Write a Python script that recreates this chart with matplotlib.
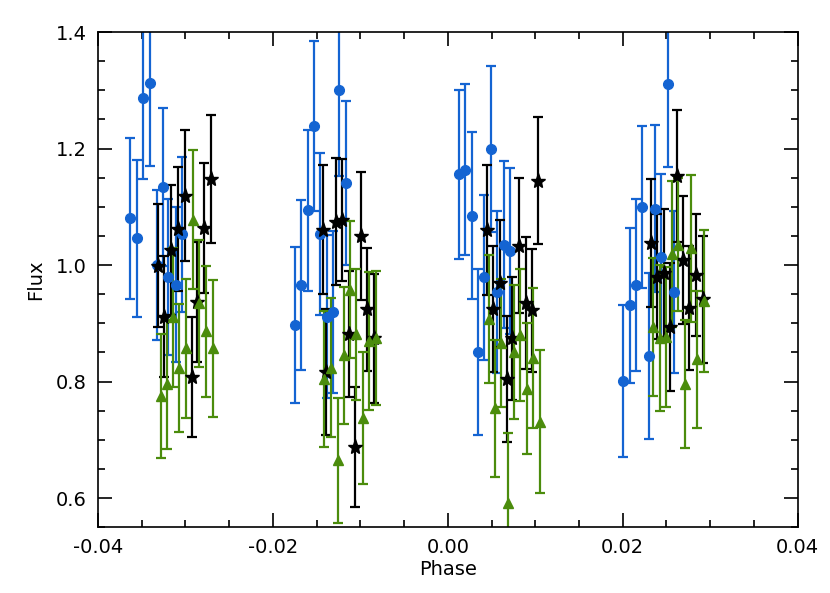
import numpy as np
import matplotlib
matplotlib.use("Agg")
import matplotlib.pyplot as plt
from matplotlib.ticker import MultipleLocator

# blue circles
blue_x = [-0.0363, -0.0355, -0.0349, -0.0341, -0.0333, -0.0326, -0.0320, -0.0311, -0.0304,
          -0.0175, -0.0168, -0.0160, -0.01535, -0.0146, -0.0138, -0.0131, -0.0124, -0.01166,
          0.00126, 0.00198, 0.00274, 0.00347, 0.00415, 0.00491, 0.00564, 0.0064, 0.00716,
          0.02004, 0.0208, 0.02152, 0.02225, 0.02297, 0.02369, 0.02442, 0.02518, 0.02591]
blue_y = [1.080, 1.046, 1.286, 1.313, 1.000, 1.134, 0.979, 0.966, 1.053,
          0.897, 0.966, 1.094, 1.239, 1.053, 0.911, 0.920, 1.300, 1.141,
          1.156, 1.164, 1.085, 0.851, 0.979, 1.199, 0.953, 1.035, 1.024,
          0.801, 0.931, 0.966, 1.100, 0.844, 1.097, 1.013, 1.311, 0.954]
blue_err = [0.138, 0.135, 0.139, 0.143, 0.129, 0.135, 0.134, 0.133, 0.133,
            0.134, 0.146, 0.138, 0.146, 0.139, 0.140, 0.139, 0.147, 0.141,
            0.145, 0.147, 0.143, 0.143, 0.142, 0.143, 0.139, 0.143, 0.142,
            0.131, 0.133, 0.148, 0.139, 0.143, 0.144, 0.143, 0.143, 0.139]

# black stars
black_x = [-0.0331, -0.0324, -0.0317, -0.0309, -0.0301, -0.0293, -0.0287, -0.0279, -0.0271,
           -0.01432, -0.01387, -0.0128, -0.01211, -0.01135, -0.01063, -0.00994, -0.00918, -0.00842,
           0.00453, 0.00518, 0.00594, 0.00674, 0.00739, 0.00811, 0.00891, 0.00964, 0.01032,
           0.0232, 0.02392, 0.02472, 0.02545, 0.0262, 0.02694, 0.02762, 0.02842, 0.02918]
black_y = [0.999, 0.911, 1.026, 1.062, 1.119, 0.808, 0.937, 1.064, 1.148,
           1.061, 0.817, 1.074, 1.077, 0.882, 0.687, 1.050, 0.924, 0.874,
           1.060, 0.924, 0.969, 0.805, 0.874, 1.033, 0.935, 0.922, 1.145,
           1.038, 0.980, 0.987, 0.894, 1.153, 1.009, 0.926, 0.983, 0.941]
black_err = [0.105, 0.104, 0.111, 0.106, 0.112, 0.103, 0.103, 0.112, 0.110,
             0.110, 0.108, 0.109, 0.105, 0.108, 0.103, 0.110, 0.106, 0.110,
             0.112, 0.108, 0.109, 0.108, 0.106, 0.116, 0.113, 0.106, 0.109,
             0.110, 0.107, 0.110, 0.110, 0.113, 0.110, 0.106, 0.105, 0.109]

# green triangles
green_x = [-0.0328, -0.0321, -0.0314, -0.0307, -0.0299, -0.0291, -0.0285, -0.0277, -0.0269,
           -0.01413, -0.01337, -0.0126, -0.01192, -0.0112, -0.01044, -0.00968, -0.0090, -0.00823,
           0.00469, 0.00541, 0.00613, 0.00689, 0.00758, 0.00831, 0.00906, 0.00979, 0.01051,
           0.02347, 0.02423, 0.02491, 0.0256, 0.02636, 0.02712, 0.0278, 0.02853, 0.02933]
green_y = [0.775, 0.795, 0.910, 0.823, 0.857, 1.078, 0.934, 0.886, 0.857,
           0.804, 0.824, 0.665, 0.845, 0.958, 0.881, 0.737, 0.870, 0.874,
           0.907, 0.754, 0.866, 0.592, 0.851, 0.880, 0.788, 0.840, 0.731,
           0.894, 0.875, 0.876, 1.019, 1.035, 0.796, 1.029, 0.838, 0.939]
green_err = [0.107, 0.111, 0.120, 0.110, 0.119, 0.119, 0.109, 0.112, 0.118,
             0.117, 0.120, 0.107, 0.118, 0.117, 0.112, 0.113, 0.118, 0.115,
             0.110, 0.118, 0.110, 0.120, 0.115, 0.113, 0.113, 0.120, 0.123,
             0.118, 0.125, 0.120, 0.125, 0.114, 0.110, 0.126, 0.117, 0.122]

blue = "#1464d2"
green = "#4b8c0c"

fig = plt.figure(figsize=(8.3, 5.93), dpi=100)
ax = fig.add_axes([0.118, 0.111, 0.843, 0.835])

ax.errorbar(blue_x, blue_y, yerr=blue_err, fmt="o", color=blue, ms=7,
            elinewidth=1.6, capsize=3.5, capthick=1.6)
ax.errorbar(black_x, black_y, yerr=black_err, fmt="*", color="black", ms=11,
            elinewidth=1.6, capsize=3.5, capthick=1.6)
ax.errorbar(green_x, green_y, yerr=green_err, fmt="^", color=green, ms=7,
            elinewidth=1.6, capsize=3.5, capthick=1.6)

ax.set_xlim(-0.04, 0.04)
ax.set_ylim(0.55, 1.4)
ax.xaxis.set_major_locator(MultipleLocator(0.02))
ax.xaxis.set_minor_locator(MultipleLocator(0.005))
ax.yaxis.set_major_locator(MultipleLocator(0.2))
ax.yaxis.set_minor_locator(MultipleLocator(0.05))
ax.xaxis.set_major_formatter(matplotlib.ticker.FormatStrFormatter("%.2f"))
ax.yaxis.set_major_formatter(matplotlib.ticker.FormatStrFormatter("%.1f"))
ax.tick_params(which="both", direction="in", top=True, right=True, width=1.2)
ax.tick_params(which="major", length=10, labelsize=14, pad=8)
ax.tick_params(which="minor", length=5)
for s in ax.spines.values():
    s.set_linewidth(1.2)

ax.set_xlabel("Phase", fontsize=14, labelpad=2)
ax.set_ylabel("Flux", fontsize=14, labelpad=8)

fig.savefig("out.png", dpi=100)
